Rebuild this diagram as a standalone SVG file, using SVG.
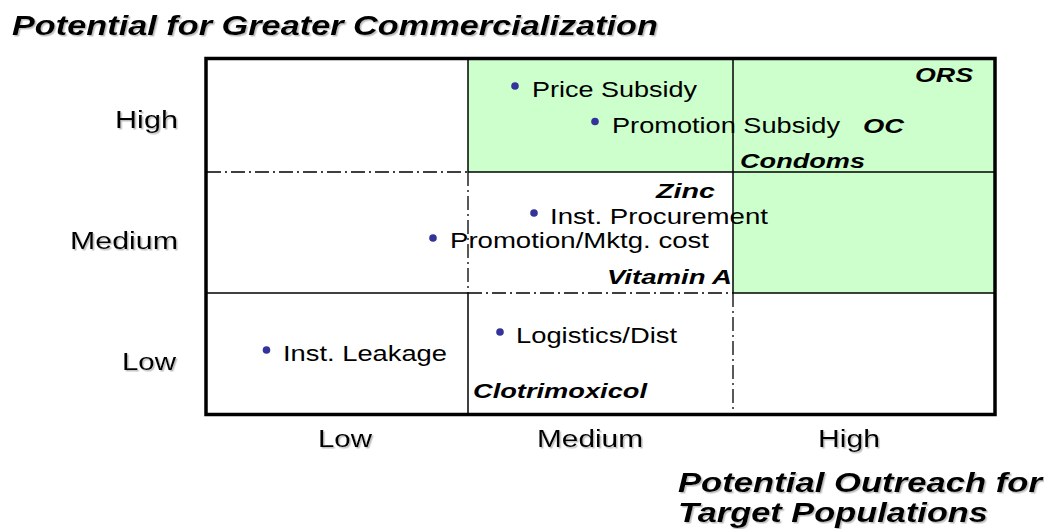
<svg xmlns="http://www.w3.org/2000/svg" width="1044" height="529" viewBox="0 0 1044 529">
<defs>
<filter id="sh" x="-5%" y="-20%" width="110%" height="150%">
<feDropShadow dx="1.2" dy="1.5" stdDeviation="0.6" flood-color="#888" flood-opacity="0.55"/>
</filter>
<style>
.t{font-family:"Liberation Sans",Arial,sans-serif;fill:#000}
.title{font-size:27px;font-weight:bold;font-style:italic}
.ax{font-size:23px}
.lab{font-size:22.5px}
.bi{font-size:20px;font-weight:bold;font-style:italic}
.dot{fill:#333399}
.solid{stroke:#000;stroke-width:1.5;fill:none}
.dd{stroke:#000;stroke-width:1.3;fill:none;stroke-dasharray:14 4 2 4}
.green{fill:#ccffcc}
</style>
</defs>
<rect width="1044" height="529" fill="#fff"/>

<g id="quadrant-fills">
<rect class="green" x="468" y="57" width="527" height="115"/>
<rect class="green" x="733" y="172" width="262" height="121"/>
</g>

<g id="grid-lines">
<line class="solid" x1="468" y1="57" x2="468" y2="172"/>
<line class="solid" x1="468" y1="293" x2="468" y2="415"/>
<line class="solid" x1="733" y1="57" x2="733" y2="293"/>
<line class="solid" x1="468" y1="172" x2="995" y2="172"/>
<line class="solid" x1="205" y1="293" x2="468" y2="293"/>
<line class="solid" x1="733" y1="293" x2="995" y2="293"/>
<line class="dd" x1="207" y1="172" x2="468" y2="172"/>
<line class="dd" x1="468" y1="172" x2="468" y2="293"/>
<line class="dd" x1="468" y1="293" x2="733" y2="293"/>
<line class="dd" x1="733" y1="293" x2="733" y2="415"/>
</g>

<g id="frame">
<rect x="206" y="58.5" width="789" height="356" fill="none" stroke="#000" stroke-width="3.5"/>
</g>

<g id="dots">
<circle class="dot" cx="515" cy="86" r="3.8"/>
<circle class="dot" cx="595" cy="121.5" r="3.8"/>
<circle class="dot" cx="534" cy="213" r="3.8"/>
<circle class="dot" cx="433" cy="238" r="3.8"/>
<circle class="dot" cx="500" cy="332" r="3.8"/>
<circle class="dot" cx="266.5" cy="350" r="3.8"/>
</g>

<g id="texts" transform="scale(1.25,1)">
<g id="title-y" filter="url(#sh)">
<text class="t title" x="9.6" y="35.5" textLength="516.8" lengthAdjust="spacingAndGlyphs">Potential for Greater Commercialization</text>
</g>
<g id="title-x" filter="url(#sh)">
<text class="t title" x="542.4" y="492" textLength="291.2" lengthAdjust="spacingAndGlyphs">Potential Outreach for</text>
<text class="t title" x="542.4" y="522" textLength="248" lengthAdjust="spacingAndGlyphs">Target Populations</text>
</g>
<g id="y-axis-labels" filter="url(#sh)">
<text class="t ax" x="92" y="128.5" textLength="50.4" lengthAdjust="spacingAndGlyphs">High</text>
<text class="t ax" x="56" y="249.5" textLength="86.4" lengthAdjust="spacingAndGlyphs">Medium</text>
<text class="t ax" x="97.6" y="370.5" textLength="43.2" lengthAdjust="spacingAndGlyphs">Low</text>
</g>
<g id="x-axis-labels" filter="url(#sh)">
<text class="t ax" x="254.4" y="447.5" textLength="43.2" lengthAdjust="spacingAndGlyphs">Low</text>
<text class="t ax" x="429.6" y="447.5" textLength="84.8" lengthAdjust="spacingAndGlyphs">Medium</text>
<text class="t ax" x="654.4" y="447.5" textLength="49.6" lengthAdjust="spacingAndGlyphs">High</text>
</g>
<g id="price-subsidy"><text class="t lab" x="425.6" y="97" textLength="132" lengthAdjust="spacingAndGlyphs">Price Subsidy</text></g>
<g id="promotion-subsidy"><text class="t lab" x="489.6" y="133" textLength="182.4" lengthAdjust="spacingAndGlyphs">Promotion Subsidy</text></g>
<g id="inst-procurement"><text class="t lab" x="440" y="224.5" textLength="174.4" lengthAdjust="spacingAndGlyphs">Inst. Procurement</text></g>
<g id="promotion-mktg"><text class="t lab" x="360" y="248" textLength="207.2" lengthAdjust="spacingAndGlyphs">Promotion/Mktg. cost</text></g>
<g id="logistics"><text class="t lab" x="412.8" y="343.5" textLength="128.8" lengthAdjust="spacingAndGlyphs">Logistics/Dist</text></g>
<g id="inst-leakage"><text class="t lab" x="226.4" y="361" textLength="131.2" lengthAdjust="spacingAndGlyphs">Inst. Leakage</text></g>
<g id="ors"><text class="t bi" x="732" y="82" textLength="46.4" lengthAdjust="spacingAndGlyphs">ORS</text></g>
<g id="oc"><text class="t bi" x="690.4" y="133" textLength="32.8" lengthAdjust="spacingAndGlyphs">OC</text></g>
<g id="condoms"><text class="t bi" x="592" y="168" textLength="100" lengthAdjust="spacingAndGlyphs">Condoms</text></g>
<g id="zinc"><text class="t bi" x="524.8" y="198" textLength="47.2" lengthAdjust="spacingAndGlyphs">Zinc</text></g>
<g id="vitamin-a"><text class="t bi" x="485.6" y="284" textLength="100" lengthAdjust="spacingAndGlyphs">Vitamin A</text></g>
<g id="clotrimoxicol"><text class="t bi" x="378.4" y="398" textLength="139.2" lengthAdjust="spacingAndGlyphs">Clotrimoxicol</text></g>
</g>
</svg>
